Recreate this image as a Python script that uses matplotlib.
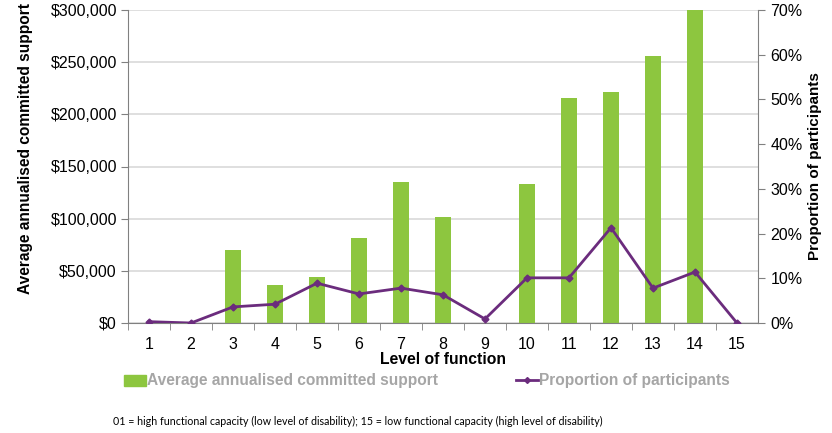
import matplotlib
matplotlib.use("Agg")
import matplotlib.pyplot as plt
from matplotlib.ticker import FuncFormatter, MultipleLocator
from matplotlib.lines import Line2D
from matplotlib.patches import Patch

levels = list(range(1, 16))
support = [0, 0, 70000, 36000, 44000, 81000, 135000, 102000, 0,
           133000, 216000, 221000, 256000, 300000, 0]
proportion = [0.3, 0.0, 3.6, 4.2, 8.9, 6.5, 7.8, 6.3, 0.9,
              10.1, 10.1, 21.3, 7.8, 11.4, 0.0]
bar_label = "Average annualised committed support"
line_label = "Proportion of participants"
footnote = ("01 = high functional capacity (low level of disability); "
            "15 = low functional capacity (high level of disability)")

plt.rcParams['font.family'] = ['Liberation Sans', 'DejaVu Sans']

green = "#8DC63F"
purple = "#6B2C7D"

fig = plt.figure(figsize=(8.32, 4.33), dpi=100)
ax = fig.add_axes([128/832, 1-323/433, (758-128)/832, (323-10)/433])
ax.bar(levels, support, width=0.38, color=green, zorder=2)
ax.set_xlim(0.5, 15.5)
ax.set_ylim(0, 300000)
ax.yaxis.set_major_locator(MultipleLocator(50000))
ax.yaxis.set_major_formatter(FuncFormatter(lambda v, p: f"${v:,.0f}"))
ax.grid(axis='y', color="#D9D9D9", linewidth=1.2, zorder=0)
ax.set_axisbelow(True)
ax.set_xticks(levels)
ax.set_xticks([x + 0.5 for x in range(0, 15)], minor=True)
ax.tick_params(axis='x', which='major', length=0, labelsize=11.5, pad=10)
ax.tick_params(axis='x', which='minor', length=5, color="#808080", direction='out')
ax.tick_params(axis='y', length=5, color="#808080", labelsize=11.5, pad=3)
ax.spines['top'].set_visible(False)
ax.spines['left'].set_color("#808080")
ax.spines['bottom'].set_color("#808080")
ax.spines['right'].set_visible(False)
ax.set_xlabel("Level of function", fontsize=11.3, fontweight='bold', labelpad=0)
ax.set_ylabel(bar_label, fontsize=11.2, fontweight='bold')
ax.yaxis.set_label_coords((33-128)/630, (323-149)/313)

ax2 = ax.twinx()
ax2.plot(levels, proportion, color=purple, linewidth=2, marker='D',
         markersize=3.5, zorder=3)
ax2.set_ylim(0, 70)
ax2.yaxis.set_major_locator(MultipleLocator(10))
ax2.yaxis.set_major_formatter(FuncFormatter(lambda v, p: f"{v:.0f}%"))
ax2.tick_params(axis='y', length=5, color="#808080", labelsize=11.5, pad=4)
for s in ['top', 'left', 'bottom']:
    ax2.spines[s].set_visible(False)
ax2.spines['right'].set_color("#808080")
ax2.set_ylabel(line_label, fontsize=11, fontweight='bold')
ax2.yaxis.set_label_coords((808-128)/630, (323-166)/313)

handles = [Patch(color=green), Line2D([], [], color=purple, marker='D', markersize=3, linewidth=2)]
leg = fig.legend(handles, [bar_label, line_label], loc='center left',
                 bbox_to_anchor=(110/832, 1-381/433), ncol=2, frameon=False,
                 handlelength=1.4, handletextpad=0.1, columnspacing=5.0,
                 prop={'size': 11.2, 'weight': 'bold'}, labelcolor="#A6A6A6")

fig.text(113/832, 1-421/433, footnote, fontsize=7.7, family=['Lato', 'DejaVu Sans'],
         va='center', ha='left')

fig.savefig("out.png", dpi=100)
